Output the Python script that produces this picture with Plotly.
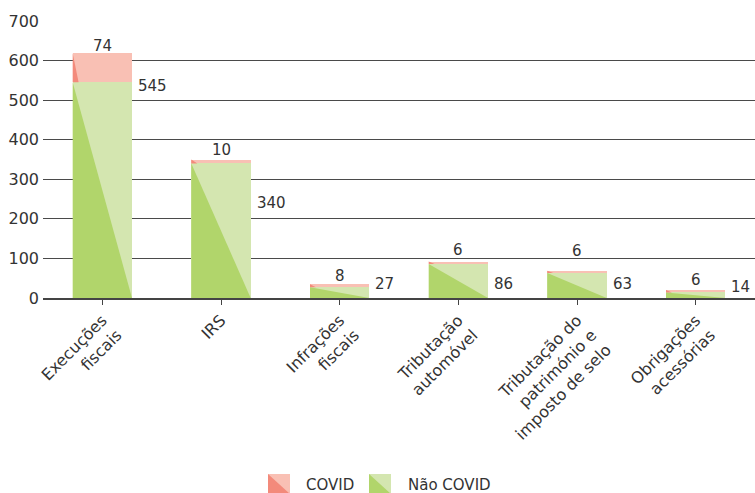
import plotly.graph_objects as go

categories = ["Execuções<br>fiscais", "IRS", "Infrações<br>fiscais", "Tributação<br>automóvel",
              "Tributação do<br>património e<br>imposto de selo", "Obrigações<br>acessórias"]
nao_covid = [545, 340, 27, 86, 63, 14]
covid = [74, 10, 8, 6, 6, 6]

# label anchor heights (value-axis units)
covid_label_y = [637, 374, 56, 121, 120, 46]
nao_label_y = [536, 239, 35, 35, 35, 29]

G_LIGHT, G_DARK = "#d4e6b0", "#b1d56b"
P_LIGHT, P_DARK = "#f9c0b4", "#f38a7b"
TXT = "#333333"
FONT = "DejaVu Sans"
BW = 0.5
PINK_FRAC = 0.1

W, H = 755, 493
L, R, T, B = 43, 0, 21, 195
PW, PH = W - L - R, H - T - B

x = list(range(len(categories)))
fig = go.Figure()
fig.add_trace(go.Bar(x=x, y=nao_covid, width=BW, marker=dict(color=G_LIGHT, line=dict(width=0)),
                     showlegend=False, hoverinfo="skip"))
fig.add_trace(go.Bar(x=x, y=covid, width=BW, marker=dict(color=P_LIGHT, line=dict(width=0)),
                     showlegend=False, hoverinfo="skip"))

for i, (g, c) in enumerate(zip(nao_covid, covid)):
    l, r = i - BW / 2, i + BW / 2
    fig.add_trace(go.Scatter(x=[l, l, r, l], y=[g, 0, 0, g], fill="toself", fillcolor=G_DARK,
                             mode="none", showlegend=False, hoverinfo="skip"))
    fig.add_trace(go.Scatter(x=[l, l, l + BW * PINK_FRAC, l], y=[g + c, g, g, g + c], fill="toself",
                             fillcolor=P_DARK, mode="none", showlegend=False, hoverinfo="skip"))

ann = []
for i in x:
    ann.append(dict(x=i, y=covid_label_y[i], text=str(covid[i]), showarrow=False,
                    xanchor="center", yanchor="middle", font=dict(size=15, color=TXT, family=FONT)))
    ann.append(dict(x=i + BW / 2, y=nao_label_y[i], text=str(nao_covid[i]), showarrow=False,
                    xanchor="left", yanchor="middle", xshift=4, font=dict(size=15, color=TXT, family=FONT)))

def px(xp):
    return (xp - L) / PW

def py(yp):
    return (H - B - yp) / PH

shapes = []
legend_items = [("COVID", P_LIGHT, P_DARK, 268, 304), ("Não COVID", G_LIGHT, G_DARK, 369, 406)]
for name, light, dark, x0, tx in legend_items:
    x1, y0, y1 = x0 + 22, 474, 494
    shapes.append(dict(type="path", xref="paper", yref="paper", line=dict(width=0), fillcolor=light,
                       path=f"M {px(x0)} {py(y0)} L {px(x1)} {py(y0)} L {px(x1)} {py(y1)} L {px(x0)} {py(y1)} Z"))
    shapes.append(dict(type="path", xref="paper", yref="paper", line=dict(width=0), fillcolor=dark,
                       path=f"M {px(x0)} {py(y0)} L {px(x1)} {py(y1)} L {px(x0)} {py(y1)} Z"))
    ann.append(dict(x=px(tx), y=py(485), xref="paper", yref="paper", text=name, showarrow=False,
                    xanchor="left", yanchor="middle", font=dict(size=15, color=TXT, family=FONT)))

fig.update_layout(
    width=W, height=H, margin=dict(l=L, r=R, t=T, b=B),
    barmode="stack", plot_bgcolor="white", paper_bgcolor="white",
    font=dict(family=FONT, color=TXT, size=15),
    annotations=ann, shapes=shapes, showlegend=False,
)
fig.update_xaxes(range=[-0.5, len(categories) - 0.5], tickmode="array", tickvals=x, ticktext=categories,
                 tickangle=-45, showgrid=False, showline=True, linecolor="#444444", linewidth=1.5,
                 ticks="outside", ticklen=5, tickcolor="#444444", tickwidth=1,
                 tickson="boundaries", tickfont=dict(size=16, color=TXT, family=FONT), zeroline=False)
fig.update_yaxes(range=[0, 700], tickvals=list(range(0, 701, 100)), showgrid=True, gridcolor="#4a4a4a",
                 gridwidth=1, zeroline=False, showline=False, ticks="", ticklabelstandoff=3,
                 tickfont=dict(size=16, color=TXT, family=FONT))

fig.write_html("out.html")
